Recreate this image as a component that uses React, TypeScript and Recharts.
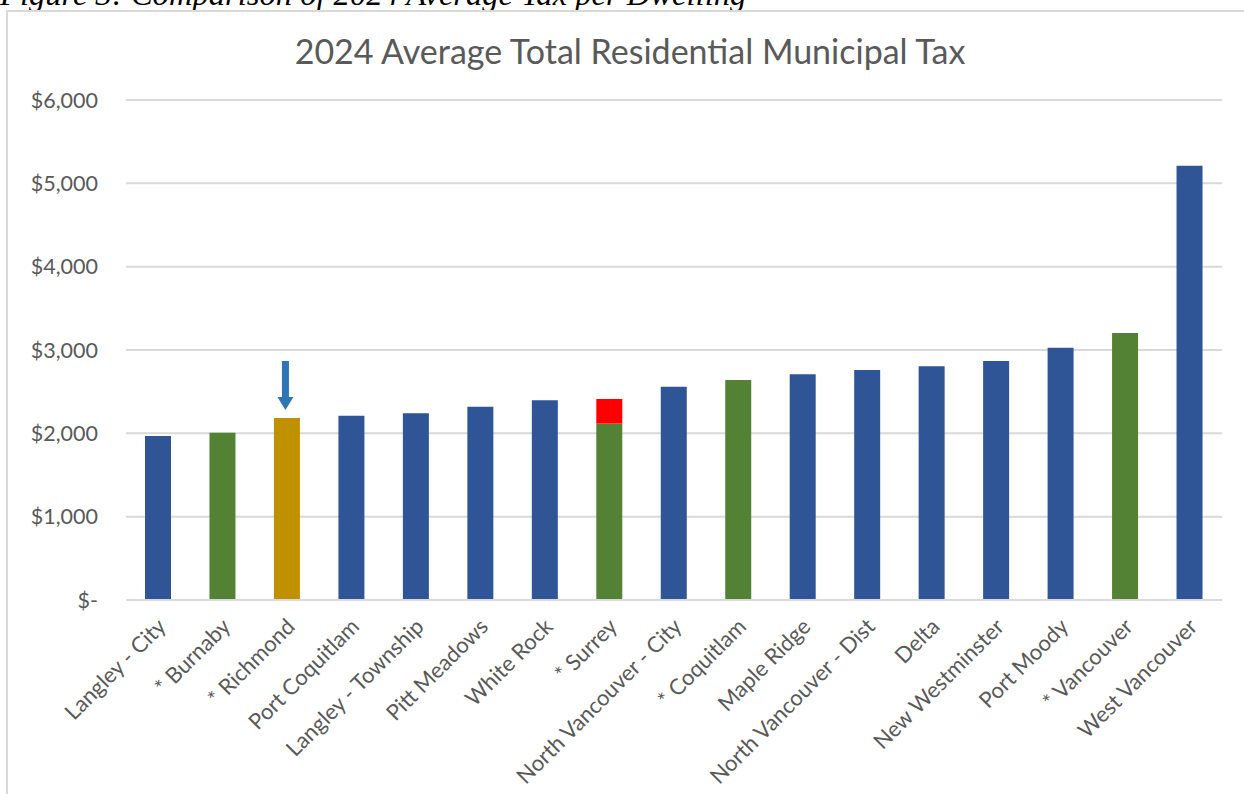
import React from "react";
import { BarChart, Bar, XAxis, YAxis, CartesianGrid, Cell, LabelList } from "recharts";

// municipalities, left to right (sorted by average tax)
const municipalities = [
  "Langley - City",
  "* Burnaby",
  "* Richmond",
  "Port Coquitlam",
  "Langley - Township",
  "Pitt Meadows",
  "White Rock",
  "* Surrey",
  "North Vancouver - City",
  "* Coquitlam",
  "Maple Ridge",
  "North Vancouver - Dist",
  "Delta",
  "New Westminster",
  "Port Moody",
  "* Vancouver",
  "West Vancouver",
];

// average total residential municipal tax ($)
const avgTax = [1968, 2008, 2184, 2212, 2240, 2320, 2396, 2116, 2560, 2640, 2708, 2760, 2804, 2868, 3028, 3204, 5212];

// red top-up shown on Surrey only
const extraTax = [0, 0, 0, 0, 0, 0, 0, 296, 0, 0, 0, 0, 0, 0, 0, 0, 0];

// which colour group each bar belongs to
const groups = [
  "other", "star", "richmond", "other", "other", "other", "other", "star", "other",
  "star", "other", "other", "other", "other", "other", "star", "other",
];

const yTicks = [0, 1000, 2000, 3000, 4000, 5000, 6000];

const groupColor: Record<string, string> = {
  other: "#2F5597",
  star: "#548235",
  richmond: "#BF9000",
};

const TEXT = "#595959";
const GRID = "#D9D9D9";
const FONT = "Lato, 'Noto Sans', sans-serif";

const data = municipalities.map((name, i) => ({
  name,
  base: avgTax[i],
  extra: extraTax[i],
  group: groups[i],
  marked: groups[i] === "richmond" ? 1 : 0,
}));

const fmtDollar = (v: number) => (v === 0 ? "$-" : "$" + v.toLocaleString("en-US"));

function AngledTick({ x, y, payload }: any) {
  const px = x + 9;
  const py = y + 28;
  return (
    <text
      x={px}
      y={py}
      transform={`rotate(-45, ${px}, ${py})`}
      textAnchor="end"
      fill={TEXT}
      fontSize={22}
      fontFamily={FONT}
    >
      {payload.value}
    </text>
  );
}

// down arrow pointing at the highlighted bar
function Arrow(props: any) {
  const { x, y, width, value } = props;
  if (!value) return null;
  const cx = x + width / 2 - 1.5;
  const tip = y - 8;
  const headH = 13;
  const top = tip - 49;
  return (
    <g>
      <rect x={cx - 3.5} y={top} width={7} height={49 - headH + 1} fill="#2E75B6" />
      <polygon points={`${cx - 8},${tip - headH} ${cx + 8},${tip - headH} ${cx},${tip}`} fill="#2E75B6" />
    </g>
  );
}

export default function App() {
  return (
    <div style={{ position: "absolute", left: 0, top: 0, width: 1244, height: 794, overflow: "hidden", background: "#fff" }}>
      <div
        style={{
          position: "absolute",
          left: 0,
          top: -22,
          fontFamily: "'Liberation Serif', 'Times New Roman', serif",
          fontStyle: "italic",
          fontSize: 32.6,
          lineHeight: "32.6px",
          whiteSpace: "nowrap",
          color: "#000",
        }}
      >
        Figure 3: Comparison of 2024 Average Tax per Dwelling
      </div>
      <div
        style={{
          position: "absolute",
          left: 6,
          top: 10,
          width: 1260,
          height: 800,
          border: `2px solid ${GRID}`,
          boxSizing: "border-box",
        }}
      />
      <div
        style={{
          position: "absolute",
          left: 0,
          top: 30,
          width: 1260,
          textAlign: "center",
          fontFamily: FONT,
          fontSize: 34,
          color: TEXT,
          whiteSpace: "nowrap",
        }}
      >
        2024 Average Total Residential Municipal Tax
      </div>
      <div style={{ position: "absolute", left: 0, top: 0 }}>
        <BarChart
          width={1244}
          height={794}
          data={data}
          margin={{ top: 100, right: 22, bottom: 0, left: 0 }}
        >
          <CartesianGrid vertical={false} stroke={GRID} strokeWidth={2} />
          <XAxis
            dataKey="name"
            interval={0}
            tickLine={false}
            tickSize={0}
            tickMargin={0}
            axisLine={{ stroke: GRID, strokeWidth: 2 }}
            tick={<AngledTick />}
            height={194}
          />
          <YAxis
            width={126}
            domain={[0, 6000]}
            ticks={yTicks}
            tickFormatter={fmtDollar}
            axisLine={false}
            tickLine={false}
            tickSize={0}
            tickMargin={28}
            tick={{ fill: TEXT, fontSize: 21.5, fontFamily: FONT }}
          />
          <Bar dataKey="base" stackId="a" barSize={26} isAnimationActive={false}>
            {data.map((d, i) => (
              <Cell key={i} fill={groupColor[d.group]} />
            ))}
            <LabelList dataKey="marked" content={<Arrow />} />
          </Bar>
          <Bar dataKey="extra" stackId="a" barSize={26} fill="#FF0000" isAnimationActive={false} />
        </BarChart>
      </div>
    </div>
  );
}
